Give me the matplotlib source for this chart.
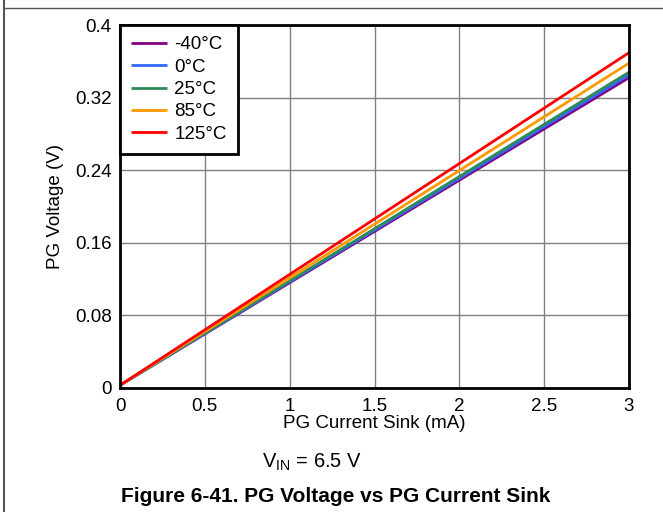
import matplotlib
matplotlib.use("Agg")
import matplotlib.pyplot as plt
from matplotlib.lines import Line2D

plt.rcParams['font.family'] = ['Liberation Sans', 'DejaVu Sans']

labels = ['-40°C', '0°C', '25°C', '85°C', '125°C']
colors = ['#800080', '#3366ff', '#2e8b57', '#ff9900', '#ff0000']
current_ma = [0.0, 3.0]
v_start = [0.003, 0.003, 0.003, 0.003, 0.003]
v_end = [0.342, 0.345, 0.348, 0.358, 0.3695]
xticks = [0, 0.5, 1, 1.5, 2, 2.5, 3]
xtick_labels = ['0', '0.5', '1', '1.5', '2', '2.5', '3']
yticks = [0, 0.08, 0.16, 0.24, 0.32, 0.4]
ytick_labels = ['0', '0.08', '0.16', '0.24', '0.32', '0.4']

FS = 13.5

fig = plt.figure(figsize=(6.63, 5.12), dpi=100)
ax = fig.add_axes([120/663, 1-388/512, (629-120)/663, (388-25)/512])

for lab, c, a, b in zip(labels, colors, v_start, v_end):
    ax.plot(current_ma, [a, b], color=c, lw=2, label=lab, solid_capstyle='butt')

ax.set_xlim(0, 3)
ax.set_ylim(0, 0.4)
ax.set_xticks(xticks)
ax.set_xticklabels(xtick_labels)
ax.set_yticks(yticks)
ax.set_yticklabels(ytick_labels)
ax.tick_params(length=0, labelsize=FS)
ax.tick_params(axis='x', pad=7)
ax.tick_params(axis='y', pad=6)
ax.grid(True, color='#808080', lw=1)
ax.set_axisbelow(True)
for s in ax.spines.values():
    s.set_linewidth(2)
    s.set_color('black')
ax.set_xlabel('PG Current Sink (mA)', fontsize=FS, labelpad=0)
ax.set_ylabel('PG Voltage (V)', fontsize=FS, labelpad=8)

leg = ax.legend(loc='upper left', fontsize=FS, frameon=True, fancybox=False,
                borderaxespad=0, handlelength=1.9, labelspacing=0.28,
                borderpad=0.6, handletextpad=0.4)
leg.get_frame().set_edgecolor('black')
leg.get_frame().set_linewidth(2)
leg.get_frame().set_alpha(1)

fig.text(312/663, 1-462/512, r'V$_{\mathregular{IN}}$ = 6.5 V', fontsize=14.5, ha='center', va='center')
fig.text(336/663, 1-497/512, 'Figure 6-41. PG Voltage vs PG Current Sink', fontsize=15,
         fontweight='bold', ha='center', va='center')

fig.add_artist(Line2D([4/663, 4/663], [0, 1], transform=fig.transFigure, color='#555555', lw=1.5))
fig.add_artist(Line2D([4/663, 1], [1-8/512, 1-8/512], transform=fig.transFigure, color='#555555', lw=1))

fig.savefig('out.png', dpi=100)
